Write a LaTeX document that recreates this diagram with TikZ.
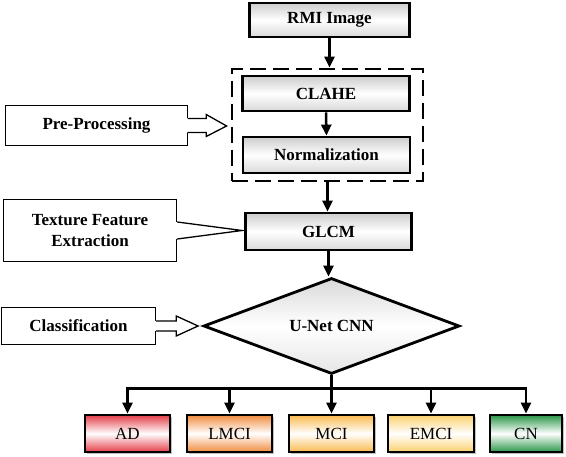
\documentclass[tikz,border=0pt]{standalone}
\usepackage{fontspec}
\setmainfont{Liberation Serif}
\usetikzlibrary{arrows.meta,shapes.geometric,shadows,calc}
\definecolor{adred}{RGB}{228,62,72}
\definecolor{lmciorange}{RGB}{240,140,62}
\definecolor{mciyellow}{RGB}{250,186,78}
\definecolor{emciyellow}{RGB}{250,208,110}
\definecolor{cngreen}{RGB}{42,150,72}
\begin{document}
\begin{tikzpicture}[x=1pt,y=-1pt,
  every node/.style={font=\fontsize{17}{20}\selectfont},
  graybox/.style={draw=black, line width=2.8pt, top color=gray!40, bottom color=gray!30, middle color=white,
    inner sep=0pt, font=\fontsize{17}{20}\selectfont\bfseries},
  sidebox/.style={draw=black, line width=1.4pt, fill=white, inner sep=0pt,
    font=\fontsize{17}{21}\selectfont\bfseries, align=center},
  classbox/.style={draw=black, line width=2.8pt, top color=#1, bottom color=#1, middle color=white, inner sep=0pt,
    minimum width=85pt, minimum height=37pt,
    drop shadow={shadow xshift=2pt, shadow yshift=-2pt, fill=gray!70, opacity=.7}},
  flow/.style={line width=2.5pt, -{Triangle[length=11pt,width=10pt]}},
  hollowline/.style={draw=black, line width=1.3pt, line join=miter},
  dashedbox/.style={draw=black, line width=2.8pt, dash pattern=on 16pt off 7pt, inner sep=0pt}
]
\useasboundingbox (0,0) rectangle (566,457);

% main column
\node[graybox, minimum width=160pt, minimum height=34pt] (rmi) at (329.5,20) {RMI Image};
\node[dashedbox, minimum width=191pt, minimum height=112pt] (pp) at (327.5,125) {};
\node[graybox, minimum width=167pt, minimum height=35pt] (clahe) at (326,93.5) {CLAHE};
\node[graybox, minimum width=167pt, minimum height=36pt] (norm) at (326.5,155) {Normalization};
\node[graybox, minimum width=166pt, minimum height=37pt] (glcm) at (328.5,231.5) {GLCM};
\node[draw=black, line width=2.8pt, diamond, inner sep=0pt, minimum width=256pt, minimum height=88pt,
  top color=gray!30, bottom color=gray!20, middle color=white,
  font=\fontsize{17}{20}\selectfont\bfseries] (cnn) at (331.5,326) {U-Net CNN};

% side labels
\node[sidebox, minimum width=182pt, minimum height=40pt] (pre) at (96.5,125.5) {Pre-Processing};
\node[sidebox, minimum width=173pt, minimum height=62pt] (tex) at (90,230.5) {Texture Feature\\Extraction};
\node[sidebox, minimum width=154pt, minimum height=37pt] (cls) at (78.5,326) {Classification};

% classes
\node[classbox=adred] (ad) at (127.5,433.5) {AD};
\node[classbox=lmciorange] (lmci) at (229.5,433.5) {LMCI};
\node[classbox=mciyellow] (mci) at (331.5,433.5) {MCI};
\node[classbox=emciyellow, minimum width=86pt] (emci) at (431,433.5) {EMCI};
\node[classbox=cngreen, minimum width=72pt] (cn) at (526,433.5) {CN};

% flow arrows
\draw[flow] (rmi.south) -- (rmi.south |- pp.north);
\draw[flow] (clahe.south) -- (norm.north);
\draw[flow] (pp.south) -- (pp.south |- glcm.north);
\draw[flow] (glcm.south) -- (glcm.south |- cnn.north);

\coordinate (bar) at ($(cnn.south)+(0,13)$);
\draw[line width=2.5pt] (cnn.south) -- (bar);
\draw[flow] (bar) -| (ad.north);
\draw[flow] (bar) -| (lmci.north);
\draw[flow] (bar) -- (mci.north);
\draw[flow] (bar) -| (emci.north);
\draw[flow] (bar) -| (cn.north);

% hollow arrow: Pre-Processing
\coordinate (pretip) at ($(pp.west)+(-4,1)$);
\fill[white] ($(pre.east)+(-1,-7)$) -- ($(pre.east)+(18,-7)$) -- ($(pre.east)+(18,-11)$) -- (pretip)
  -- ($(pre.east)+(18,11)$) -- ($(pre.east)+(18,7)$) -- ($(pre.east)+(-1,7)$) -- cycle;
\draw[hollowline] ($(pre.east)+(0,-7)$) -- ($(pre.east)+(18,-7)$) -- ($(pre.east)+(18,-11)$) -- (pretip)
  -- ($(pre.east)+(18,11)$) -- ($(pre.east)+(18,7)$) -- ($(pre.east)+(0,7)$);

% hollow arrow: Classification
\coordinate (clstip) at ($(cnn.west)+(-4,0)$);
\fill[white] ($(cls.east)+(-1,-5)$) -- ($(cls.east)+(20,-5)$) -- ($(cls.east)+(20,-10)$) -- (clstip)
  -- ($(cls.east)+(20,10)$) -- ($(cls.east)+(20,5)$) -- ($(cls.east)+(-1,5)$) -- cycle;
\draw[hollowline] ($(cls.east)+(0,-5)$) -- ($(cls.east)+(20,-5)$) -- ($(cls.east)+(20,-10)$) -- (clstip)
  -- ($(cls.east)+(20,10)$) -- ($(cls.east)+(20,5)$) -- ($(cls.east)+(0,5)$);

% callout pointer: Texture Feature Extraction
\coordinate (textip) at ($(glcm.west)+(-2,-1)$);
\fill[white] ($(tex.east)+(-1,-8.5)$) -- (textip) -- ($(tex.east)+(-1,8.5)$) -- cycle;
\draw[hollowline] ($(tex.east)+(0,-8.5)$) -- (textip) -- ($(tex.east)+(0,8.5)$);
\end{tikzpicture}
\end{document}
